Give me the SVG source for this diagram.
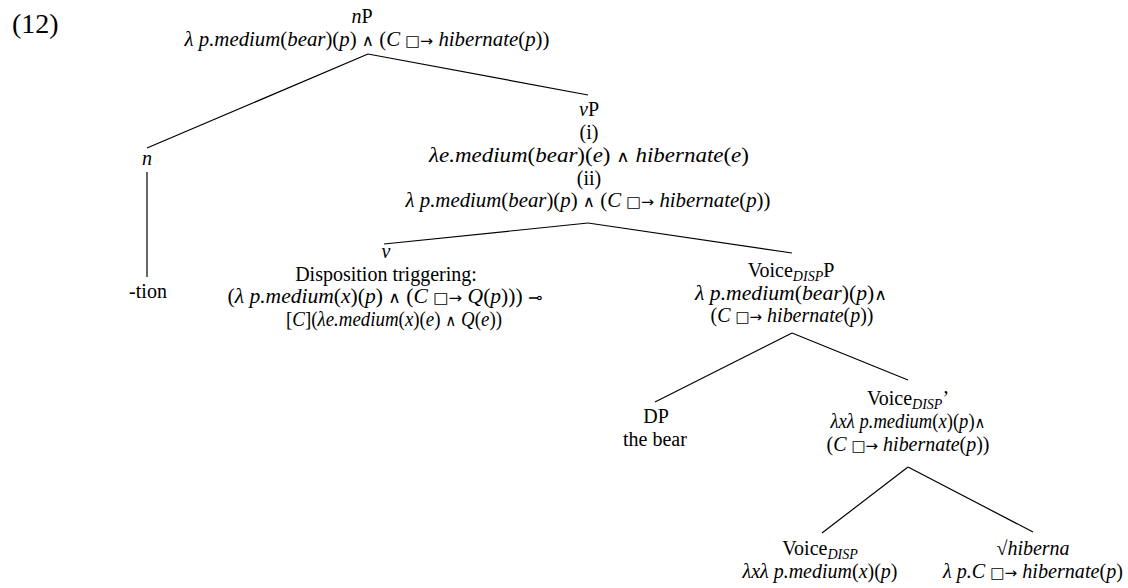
<svg xmlns="http://www.w3.org/2000/svg" width="1128" height="588" viewBox="0 0 1128 588">
<style>
.t{font-family:"Liberation Serif",serif;font-size:20px;text-anchor:middle;fill:#000}
.i{font-style:italic}
.sub{font-size:14px;font-style:italic}
.sym{font-family:"DejaVu Sans",sans-serif;font-size:15px}
.and{font-family:"DejaVu Sans",sans-serif;font-size:16px}
.edge{stroke:#000;stroke-width:1.2;fill:none}
</style>
<rect width="1128" height="588" fill="#fff"/>
<text x="12" y="33" style="font-family:'Liberation Serif',serif;font-size:28px">(12)</text>
<g id="edges">
<line class="edge" x1="368" y1="54" x2="147" y2="148"/>
<line class="edge" x1="368" y1="54" x2="588" y2="95"/>
<line class="edge" x1="147" y1="172" x2="147" y2="277"/>
<line class="edge" x1="588" y1="223" x2="384" y2="244"/>
<line class="edge" x1="588" y1="223" x2="792" y2="253"/>
<line class="edge" x1="792" y1="333" x2="655" y2="402"/>
<line class="edge" x1="792" y1="333" x2="908" y2="380"/>
<line class="edge" x1="908" y1="467" x2="822" y2="533"/>
<line class="edge" x1="908" y1="467" x2="1033" y2="532"/>
</g>
<g id="nP">
<text class="t" x="362" y="23"><tspan class="i">n</tspan>P</text>
<text class="t" x="367" y="46" textLength="365" lengthAdjust="spacingAndGlyphs"><tspan class="i">λ p.medium</tspan>(<tspan class="i">bear</tspan>)(<tspan class="i">p</tspan>) <tspan class="and">∧</tspan> (<tspan class="i">C</tspan> <tspan class="sym">□→</tspan> <tspan class="i">hibernate</tspan>(<tspan class="i">p</tspan>))</text>
</g>
<g id="n">
<text class="t i" x="147" y="165">n</text>
</g>
<g id="tion">
<text class="t" x="148" y="298">-tion</text>
</g>
<g id="vP">
<text class="t" x="589" y="116"><tspan class="i">v</tspan>P</text>
<text class="t" x="589" y="139">(i)</text>
<text class="t" x="589" y="162" textLength="320" lengthAdjust="spacingAndGlyphs"><tspan class="i">λe.medium</tspan>(<tspan class="i">bear</tspan>)(<tspan class="i">e</tspan>) <tspan class="and">∧</tspan> <tspan class="i">hibernate</tspan>(<tspan class="i">e</tspan>)</text>
<text class="t" x="589" y="185">(ii)</text>
<text class="t" x="588" y="207" textLength="365" lengthAdjust="spacingAndGlyphs"><tspan class="i">λ p.medium</tspan>(<tspan class="i">bear</tspan>)(<tspan class="i">p</tspan>) <tspan class="and">∧</tspan> (<tspan class="i">C</tspan> <tspan class="sym">□→</tspan> <tspan class="i">hibernate</tspan>(<tspan class="i">p</tspan>))</text>
</g>
<g id="v">
<text class="t i" x="386" y="258">v</text>
<text class="t" x="386" y="281">Disposition triggering:</text>
<text class="t" x="385" y="303" textLength="315" lengthAdjust="spacingAndGlyphs">(<tspan class="i">λ p.medium</tspan>(<tspan class="i">x</tspan>)(<tspan class="i">p</tspan>) <tspan class="and">∧</tspan> (<tspan class="i">C</tspan> <tspan class="sym">□→</tspan> <tspan class="i">Q</tspan>(<tspan class="i">p</tspan>))) <tspan class="and">⊸</tspan></text>
<text class="t" x="394" y="326" textLength="216" lengthAdjust="spacingAndGlyphs">[<tspan class="i">C</tspan>](<tspan class="i">λe.medium</tspan>(<tspan class="i">x</tspan>)(<tspan class="i">e</tspan>) <tspan class="and">∧</tspan> <tspan class="i">Q</tspan>(<tspan class="i">e</tspan>))</text>
</g>
<g id="VoiceDispP">
<text class="t" x="791" y="277">Voice<tspan class="sub" baseline-shift="-4">DISP</tspan>P</text>
<text class="t" x="791" y="300" textLength="192" lengthAdjust="spacingAndGlyphs"><tspan class="i">λ p.medium</tspan>(<tspan class="i">bear</tspan>)(<tspan class="i">p</tspan>)<tspan class="and">∧</tspan></text>
<text class="t" x="792" y="322" textLength="163" lengthAdjust="spacingAndGlyphs">(<tspan class="i">C</tspan> <tspan class="sym">□→</tspan> <tspan class="i">hibernate</tspan>(<tspan class="i">p</tspan>))</text>
</g>
<g id="DP">
<text class="t" x="656" y="423">DP</text>
<text class="t" x="655" y="446">the bear</text>
</g>
<g id="VoiceDispBar">
<text class="t" x="908" y="405">Voice<tspan class="sub" baseline-shift="-4">DISP</tspan>’</text>
<text class="t" x="908" y="428" textLength="155" lengthAdjust="spacingAndGlyphs"><tspan class="i">λxλ p.medium</tspan>(<tspan class="i">x</tspan>)(<tspan class="i">p</tspan>)<tspan class="and">∧</tspan></text>
<text class="t" x="908" y="451" textLength="163" lengthAdjust="spacingAndGlyphs">(<tspan class="i">C</tspan> <tspan class="sym">□→</tspan> <tspan class="i">hibernate</tspan>(<tspan class="i">p</tspan>))</text>
</g>
<g id="VoiceDisp">
<text class="t" x="820" y="555">Voice<tspan class="sub" baseline-shift="-4">DISP</tspan></text>
<text class="t" x="820" y="578" textLength="155" lengthAdjust="spacingAndGlyphs"><tspan class="i">λxλ p.medium</tspan>(<tspan class="i">x</tspan>)(<tspan class="i">p</tspan>)</text>
</g>
<g id="hiberna">
<text class="t" x="1033" y="555">√<tspan class="i">hiberna</tspan></text>
<text class="t" x="1033" y="578" textLength="180" lengthAdjust="spacingAndGlyphs"><tspan class="i">λ p.C</tspan> <tspan class="sym">□→</tspan> <tspan class="i">hibernate</tspan>(<tspan class="i">p</tspan>)</text>
</g>
</svg>
